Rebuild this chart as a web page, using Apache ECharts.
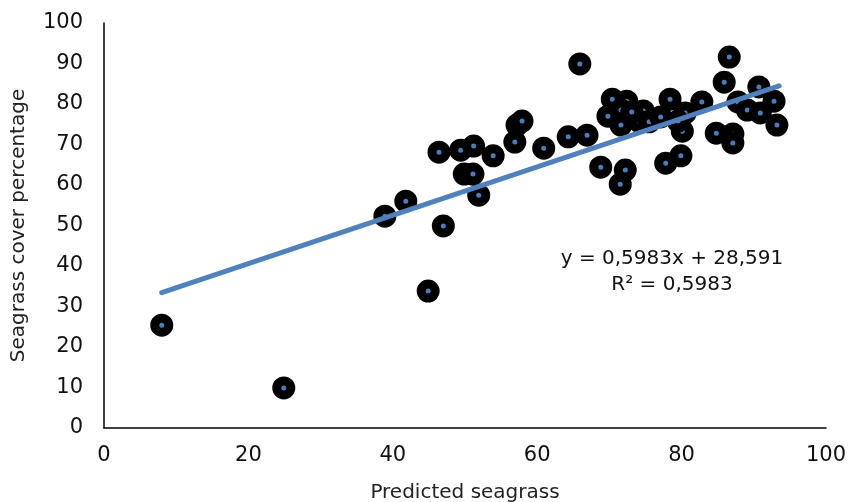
<!DOCTYPE html>
<html><head><meta charset="utf-8">
<script src="https://cdn.jsdelivr.net/npm/echarts@6/dist/echarts.min.js"></script>
<style>html,body{margin:0;padding:0;background:#fff}#c{width:849px;height:502px}</style>
</head><body><div id="c"></div>
<script>
const predicted = [8.0,24.9,38.9,41.8,44.9,46.4,47.0,49.4,49.9,51.2,51.1,51.9,53.9,57.2,57.9,56.9,60.9,64.3,66.9,65.9,68.8,70.4,72.4,69.8,71.6,71.6,72.2,71.5,74.7,74.2,75.5,77.1,73.1,78.4,82.8,80.5,80.1,79.9,77.8,86.6,85.9,90.7,92.8,87.8,89.1,90.9,93.2,84.8,87.1,87.1,79.5];
const observed  = [25.4,9.9,52.3,56.0,33.8,68.1,49.9,68.6,62.7,69.6,62.7,57.5,67.2,74.8,75.8,70.6,69.1,71.9,72.3,89.9,64.4,81.2,80.7,77.0,78.5,74.8,63.7,60.2,78.3,75.6,75.6,76.8,78.0,81.2,80.5,77.8,73.3,67.2,65.4,91.6,85.4,84.2,80.7,80.5,78.5,77.8,74.8,72.8,72.6,70.4,75.8];
const trendX = [8.0, 93.5];
const trendY = [33.4, 84.5];
const xTicks = [0,20,40,60,80,100];
const yTicks = [0,10,20,30,40,50,60,70,80,90,100];
const equationText = ['y = 0,5983x + 28,591', 'R² = 0,5983'];

const font = 'DejaVu Sans';
const chart = echarts.init(document.getElementById('c'));
chart.setOption({
  animation:false,
  grid:{left:104,right:23,top:23,bottom:74,containLabel:false,outerBoundsMode:'none'},
  xAxis:{type:'value',min:xTicks[0],max:xTicks[xTicks.length-1],interval:20,
    name:'Predicted seagrass',nameLocation:'middle',nameGap:55,
    nameTextStyle:{fontFamily:font,fontSize:20,color:'#222'},
    axisLine:{lineStyle:{color:'#000',width:1.5}},axisTick:{show:false},splitLine:{show:false},
    axisLabel:{fontFamily:font,fontSize:21,color:'#111',margin:17}},
  yAxis:{type:'value',min:yTicks[0],max:yTicks[yTicks.length-1],interval:10,
    name:'Seagrass cover percentage',nameLocation:'middle',nameGap:75,nameRotate:90,
    nameTextStyle:{fontFamily:font,fontSize:20,color:'#222'},
    axisLine:{show:true,lineStyle:{color:'#000',width:1.5}},axisTick:{show:false},splitLine:{show:false},
    axisLabel:{fontFamily:font,fontSize:21,color:'#111',margin:21}},
  series:[
    {type:'scatter',data:predicted.map((x,i)=>[x,observed[i]]),symbol:'circle',symbolSize:14,
      itemStyle:{color:'#4a7ebb',borderColor:'#000',borderWidth:9,opacity:1},z:2},
    {type:'line',data:trendX.map((x,i)=>[x,trendY[i]]),symbol:'none',
      lineStyle:{color:'#4f81bd',width:5,cap:'round'},z:3}
  ],
  graphic:[
    {type:'text',x:672,y:246,style:{text:equationText.join('\n'),font:'20px "DejaVu Sans"',lineHeight:26,fill:'#111',textAlign:'center'}}
  ]
});
</script></body></html>
